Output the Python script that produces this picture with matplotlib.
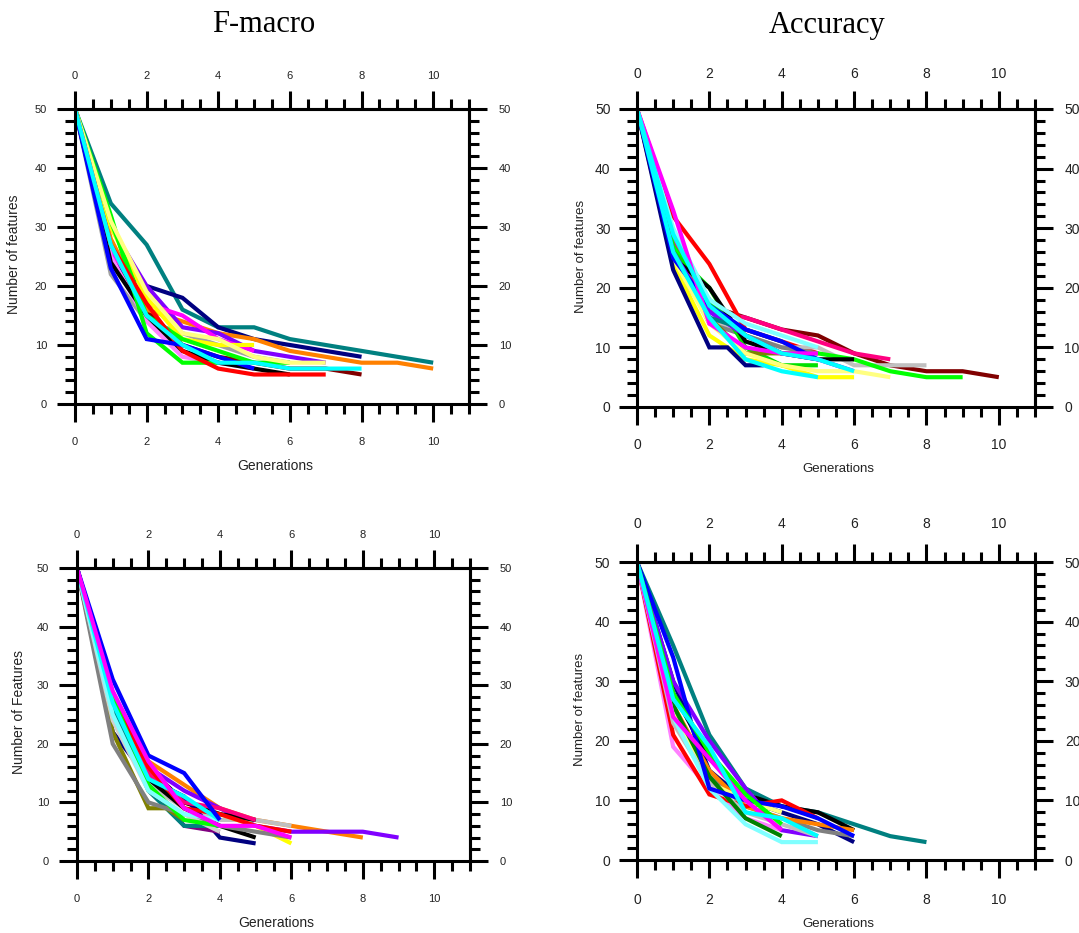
import matplotlib
matplotlib.use("Agg")
import matplotlib.pyplot as plt
from matplotlib.ticker import MultipleLocator

plt.rcParams['font.family'] = ['Liberation Sans', 'DejaVu Sans']

# ---------------- data ----------------
titles = ["F-macro", "Accuracy"]
xlabel = "Generations"
ylabels = ["Number of features", "Number of features", "Number of Features", "Number of features"]

# Panel 1: F-macro (top)
fm_top_colors = ["#800000", "#008080", "#000080", "#FF8000", "#A0A0A0", "#8000FF",
                 "#FF00FF", "#FF80FF", "#000000", "#FFFF00", "#00FF00", "#00FF00",
                 "#FFFF80", "#FF0000", "#0000FF", "#00FFFF"]
fm_top_values = [
    [50, 25, 16, 10, 8, 7, 6, 6, 5],
    [50, 34, 27, 16, 13, 13, 11, 10, 9, 8, 7],
    [50, 24, 20, 18, 13, 11, 10, 9, 8],
    [50, 28, 16, 14, 12, 11, 9, 8, 7, 7, 6],
    [50, 22, 14, 12, 10, 8, 7],
    [50, 30, 20, 13, 12, 9, 8, 7],
    [50, 26, 17, 15, 11, 9],
    [50, 25, 14, 8, 7, 6],
    [50, 24, 15, 9, 7, 6, 5],
    [50, 30, 18, 11, 10, 10],
    [50, 31, 15, 11, 9, 7, 7],
    [50, 32, 12, 7, 7],
    [50, 31, 19, 12, 11, 8, 7, 7],
    [50, 27, 17, 9, 6, 5, 5, 5],
    [50, 23, 11, 10, 8, 6],
    [50, 27, 15, 10, 7, 7, 6, 6, 6],
]

# Panel 2: Accuracy (top)
acc_top_colors = ["#800000", "#FF0080", "#FF0000", "#C0C0C0", "#808080", "#00FF00",
                  "#00E000", "#000000", "#808000", "#8000FF", "#008080", "#FFFF00",
                  "#FFFF80", "#000080", "#80FFFF", "#0000FF", "#FF00FF", "#00FFFF",
                  "#00FFFF"]
acc_top_x = [None] * 13 + [[0, 1, 2, 2.5, 3, 3.5]] + [None] * 5
acc_top_values = [
    [50, 25, 17, 15, 13, 12, 9, 7, 6, 6, 5],
    [50, 28, 16, 15, 13, 11, 9, 8],
    [50, 32, 24, 13, 11, 9],
    [50, 26, 15, 12, 10, 10, 7, 7, 7],
    [50, 26, 14, 12, 10, 9],
    [50, 27, 18, 12, 9, 9, 8, 6, 5, 5],
    [50, 26, 20, 10, 7, 7],
    [50, 25, 20, 11, 9, 8, 8],
    [50, 24, 15, 9, 9],
    [50, 26, 16, 12, 9, 8, 6],
    [50, 25, 15, 13, 11],
    [50, 24, 12, 8, 7, 5, 5],
    [50, 25, 14, 9, 7, 6, 6, 5],
    [50, 23, 10, 10, 7, 7],
    [50, 30, 18, 14, 12, 10],
    [50, 25, 17, 13, 11, 8],
    [50, 33, 14, 10, 9, 9],
    [50, 29, 17, 12, 9, 8, 6],
    [50, 26, 15, 8, 6, 5],
]

# Panel 3: F-macro (bottom)
fm_bot_colors = ["#FF8000", "#8000FF", "#C0C0C0", "#FFFF00", "#000000", "#000000",
                 "#000080", "#FF0080", "#FF0000", "#800080", "#008080", "#808000",
                 "#808080", "#D0D0D0", "#00FF00", "#80FFFF", "#00FFFF", "#0000FF",
                 "#FF00FF"]
fm_bot_x = [None] * 11 + [[0, 1, 2, 2.5, 3]] + [None] * 7
fm_bot_values = [
    [50, 26, 17, 13, 9, 7, 6, 5, 4],
    [50, 27, 16, 12, 9, 6, 5, 5, 5, 4],
    [50, 24, 13, 9, 7, 7, 6],
    [50, 26, 14, 10, 8, 6, 3],
    [50, 27, 16, 10, 8, 7],
    [50, 25, 14, 9, 6, 4],
    [50, 22, 14, 11, 4, 3],
    [50, 28, 15, 10, 9, 7],
    [50, 28, 16, 9, 8, 6, 5],
    [50, 25, 13, 6, 5],
    [50, 26, 12, 6, 6],
    [50, 22, 9, 9, 7],
    [50, 20, 10, 8, 6, 5, 4],
    [50, 24, 12, 8, 5],
    [50, 28, 13, 7, 6],
    [50, 25, 12, 8, 7],
    [50, 27, 14, 11, 7],
    [50, 31, 18, 15, 7],
    [50, 29, 17, 9, 6, 6, 4],
]

# Panel 4: Accuracy (bottom)
acc_bot_colors = ["#008080", "#000000", "#000080", "#808080", "#FF8000", "#FF80FF",
                  "#FF0000", "#8000FF", "#FFFF80", "#C0C0C0", "#008000", "#80FFFF",
                  "#0000FF", "#00FF00", "#FF00FF", "#00FFFF"]
acc_bot_values = [
    [50, 36, 21, 12, 9, 8, 6, 4, 3],
    [50, 28, 17, 11, 9, 8, 5],
    [50, 30, 15, 10, 8, 6, 3],
    [50, 24, 14, 9, 7, 5, 4],
    [50, 26, 15, 9, 7, 6, 5],
    [50, 19, 12, 7, 5],
    [50, 21, 11, 9, 10, 7],
    [50, 30, 20, 12, 5, 4],
    [50, 25, 13, 10, 8],
    [50, 23, 13, 8, 6, 4],
    [50, 26, 14, 7, 4],
    [50, 24, 12, 6, 3, 3],
    [50, 34, 12, 10, 9, 7, 4],
    [50, 28, 18, 11, 6],
    [50, 24, 17, 10, 5],
    [50, 27, 19, 8, 7, 4],
]

xticks = [0, 2, 4, 6, 8, 10]
yticks = [0, 10, 20, 30, 40, 50]

# ---------------- figure ----------------
fig = plt.figure(figsize=(10.79, 9.33), dpi=100)

W, H = 1079.0, 933.0

def rect(l, t, r, b):
    return [l / W, 1 - b / H, (r - l) / W, (b - t) / H]

panels = [
    dict(rect=rect(75, 109, 469, 404), colors=fm_top_colors, values=fm_top_values,
         xs=None, fs=8, pads=dict(bottom=11, top=7, left=7, right=8.5),
         ylabel=ylabels[0], ylab_xy=(14, 254), xlab_xy=(275, 466), lab_fs=10),
    dict(rect=rect(637, 109, 1035, 407), colors=acc_top_colors, values=acc_top_values,
         xs=acc_top_x, fs=10, pads=dict(bottom=9.5, top=7, left=6, right=8),
         ylabel=ylabels[1], ylab_xy=(581, 256), xlab_xy=(838, 469), lab_fs=9.5),
    dict(rect=rect(77, 568, 470, 861), colors=fm_bot_colors, values=fm_bot_values,
         xs=fm_bot_x, fs=8, pads=dict(bottom=11, top=7, left=7, right=8.5),
         ylabel=ylabels[2], ylab_xy=(19, 712), xlab_xy=(276, 923), lab_fs=10),
    dict(rect=rect(637, 562, 1035, 860), colors=acc_bot_colors, values=acc_bot_values,
         xs=None, fs=10, pads=dict(bottom=11, top=9, left=6.5, right=8.5),
         ylabel=ylabels[3], ylab_xy=(580, 709), xlab_xy=(838, 924), lab_fs=9.5),
]

for p in panels:
    ax = fig.add_axes(p["rect"])
    for i, (c, v) in enumerate(zip(p["colors"], p["values"])):
        x = p["xs"][i] if p["xs"] is not None and p["xs"][i] is not None else list(range(len(v)))
        ax.plot(x, v, color=c, lw=3.0, solid_joinstyle='miter', solid_capstyle='butt')
    ax.set_xlim(0, 11)
    ax.set_ylim(0, 50)
    ax.set_xticks(xticks)
    ax.set_yticks(yticks)
    ax.xaxis.set_minor_locator(MultipleLocator(0.5))
    ax.yaxis.set_minor_locator(MultipleLocator(2))
    for s in ax.spines.values():
        s.set_linewidth(2.2)
    ax.tick_params(which='both', direction='out', top=False, right=False,
                   width=2.2, color='black')
    ax.tick_params(which='major', length=13, labelsize=p["fs"], labelcolor='#222222')
    ax.tick_params(which='minor', length=7.5)
    ax.tick_params(axis='x', which='major', pad=p["pads"]["bottom"])
    ax.tick_params(axis='y', which='major', pad=p["pads"]["left"])

    # top axis
    sx = ax.secondary_xaxis('top')
    sx.set_xticks(xticks)
    sx.xaxis.set_minor_locator(MultipleLocator(0.5))
    sx.spines['top'].set_linewidth(2.2)
    sx.tick_params(which='both', direction='out', width=2.2, color='black')
    sx.tick_params(which='major', length=13, labelsize=p["fs"], labelcolor='#222222',
                   pad=p["pads"]["top"])
    sx.tick_params(which='minor', length=7.5)

    # right axis
    sy = ax.secondary_yaxis('right')
    sy.set_yticks(yticks)
    sy.yaxis.set_minor_locator(MultipleLocator(2))
    sy.spines['right'].set_linewidth(2.2)
    sy.tick_params(which='both', direction='out', width=2.2, color='black')
    sy.tick_params(which='major', length=13, labelsize=p["fs"], labelcolor='#222222',
                   pad=p["pads"]["right"])
    sy.tick_params(which='minor', length=7.5)

    fig.text(p["ylab_xy"][0] / W, 1 - p["ylab_xy"][1] / H, p["ylabel"], rotation=90,
             ha='center', va='center', fontsize=p["lab_fs"], color='#222222')
    fig.text(p["xlab_xy"][0] / W, 1 - p["xlab_xy"][1] / H, xlabel,
             ha='center', va='center', fontsize=p["lab_fs"], color='#222222')

fig.text(264 / W, 1 - 25 / H, titles[0], ha='center', va='center', fontsize=22,
         family=['Liberation Serif', 'DejaVu Serif'])
fig.text(827 / W, 1 - 25 / H, titles[1], ha='center', va='center', fontsize=22,
         family=['Liberation Serif', 'DejaVu Serif'])

fig.savefig("out.png", dpi=100, facecolor='white')
